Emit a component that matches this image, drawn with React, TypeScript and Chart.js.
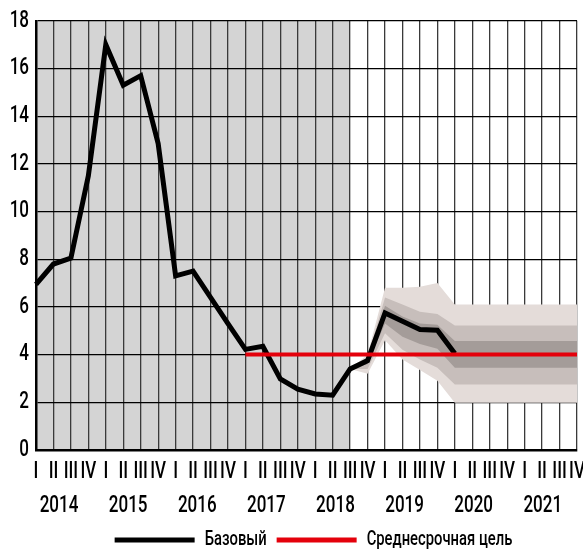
import React, { useEffect, useRef } from "react";
import { Chart, registerables } from "chart.js";

Chart.register(...registerables);

const years = ["2014", "2015", "2016", "2017", "2018", "2019", "2020", "2021"];
const quarters = ["I", "II", "III", "IV"];
const labels = years.flatMap(() => quarters);

// Baseline inflation path (2014 Q1 .. 2020 Q1)
const baseline = [
  6.95, 7.8, 8.05, 11.5, 17.0, 15.3, 15.7, 12.85, 7.3, 7.5, 6.4, 5.3, 4.22,
  4.35, 2.98, 2.55, 2.35, 2.3, 3.4, 3.75, 5.75, 5.4, 5.05, 5.02, 4.05,
];

// Medium-term target (from 2017 Q1)
const target = [
  null, null, null, null, null, null, null, null, null, null, null, null,
  4, 4, 4, 4, 4, 4, 4, 4, 4, 4, 4, 4, 4, 4, 4, 4, 4, 4, 4, 4,
];

const pre = Array(18).fill(null);
const flat = (v: number) => Array(8).fill(v);

// Fan chart bands (from 2018 Q3)
const outerUpper = [...pre, 3.4, 4.0, 6.8, 6.8, 6.85, 7.0, ...flat(6.1)];
const outerLower = [...pre, 3.4, 3.2, 4.6, 3.8, 3.35, 2.9, ...flat(1.98)];
const middleUpper = [...pre, 3.4, 3.9, 6.4, 6.1, 5.8, 5.7, ...flat(5.22)];
const middleLower = [...pre, 3.4, 3.4, 4.9, 4.2, 3.8, 3.45, ...flat(2.75)];
const innerUpper = [...pre, 3.4, 3.85, 6.05, 5.6, 5.3, 5.25, ...flat(4.57)];
const innerLower = [...pre, 3.4, 3.6, 5.3, 4.75, 4.45, 4.25, ...flat(3.45)];

const historyEndIndex = 18; // shaded (actual data) region ends at 2018 Q3

const yTicks = [0, 2, 4, 6, 8, 10, 12, 14, 16, 18];
// year label positions in quarter units
const yearPos = years.map((_, i) => 1.32 + 3.96 * i);

const FONT = "Roboto, 'DejaVu Sans', sans-serif";
const TEXT_SX = 0.74; // horizontal condensing of all text (narrow typeface look)

const bgPlugin = {
  id: "histBg",
  afterLayout(chart: any) {
    if (chart.legend) {
      chart.legend.left += 7;
      chart.legend.right += 7;
    }
  },
  beforeDraw(chart: any) {
    const { ctx, chartArea, scales } = chart;
    const x0 = scales.x.getPixelForValue(0);
    const x1 = scales.x.getPixelForValue(historyEndIndex);
    ctx.save();
    ctx.fillStyle = "#d4d4d4";
    ctx.fillRect(x0, chartArea.top, x1 - x0, chartArea.bottom - chartArea.top);
    ctx.restore();
  },
};

function condense(ctx: any) {
  const fill = ctx.fillText.bind(ctx);
  const measure = ctx.measureText.bind(ctx);
  ctx.fillText = (t: string, x: number, y: number, mw?: number) => {
    ctx.save();
    ctx.translate(x, y);
    ctx.scale(TEXT_SX, 1);
    if (mw !== undefined && mw !== null && isFinite(mw)) fill(t, 0, 0, mw / TEXT_SX);
    else fill(t, 0, 0);
    ctx.restore();
  };
  ctx.measureText = (t: string) => {
    const m = measure(t);
    return {
      width: m.width * TEXT_SX,
      actualBoundingBoxAscent: m.actualBoundingBoxAscent,
      actualBoundingBoxDescent: m.actualBoundingBoxDescent,
      actualBoundingBoxLeft: m.actualBoundingBoxLeft * TEXT_SX,
      actualBoundingBoxRight: m.actualBoundingBoxRight * TEXT_SX,
      fontBoundingBoxAscent: m.fontBoundingBoxAscent,
      fontBoundingBoxDescent: m.fontBoundingBoxDescent,
    };
  };
}

function band(data: (number | null)[], color: string, fill: any, order: number) {
  return {
    label: "",
    data,
    borderWidth: 0,
    borderColor: "transparent",
    backgroundColor: color,
    pointRadius: 0,
    fill,
    order,
    tension: 0,
  };
}

export default function App() {
  const ref = useRef<HTMLCanvasElement>(null);
  useEffect(() => {
    if (!ref.current) return;
    const ctx = ref.current.getContext("2d");
    condense(ctx);
    const tickFont = { family: FONT, size: 23, weight: "500" };
    const chart = new Chart(ctx as any, {
      type: "line",
      data: {
        labels,
        datasets: [
          {
            label: "Базовый",
            data: baseline,
            borderColor: "#000",
            backgroundColor: "#000",
            borderWidth: 5,
            borderJoinStyle: "miter",
            pointRadius: 0,
            fill: false,
            order: 1,
          },
          {
            label: "Среднесрочная цель",
            data: target,
            borderColor: "#e4000b",
            backgroundColor: "#e4000b",
            borderWidth: 4,
            borderCapStyle: "butt",
            pointRadius: 0,
            fill: false,
            order: 0,
          },
          band(outerUpper, "#e4dcd9", "+1", 4),
          band(outerLower, "transparent", false, 4),
          band(middleUpper, "#c7bebb", "+1", 3),
          band(middleLower, "transparent", false, 3),
          band(innerUpper, "#a49c99", "+1", 2),
          band(innerLower, "transparent", false, 2),
        ] as any,
      },
      options: {
        animation: false,
        responsive: false,
        maintainAspectRatio: false,
        layout: { padding: { top: 20, right: 6, left: 0, bottom: -8 } },
        plugins: {
          tooltip: { enabled: false },
          legend: {
            position: "bottom",
            fullSize: false,
            labels: {
              boxWidth: 80,
              boxHeight: 5,
              padding: 10,
              color: "#000",
              font: { family: FONT, size: 20, weight: "500" },
              generateLabels: (c: any) =>
                [0, 1].map((i) => ({
                  text: c.data.datasets[i].label,
                  fillStyle: c.data.datasets[i].borderColor,
                  strokeStyle: c.data.datasets[i].borderColor,
                  lineWidth: 0,
                  hidden: false,
                  datasetIndex: i,
                })),
            },
          },
        },
        scales: {
          x: {
            type: "category",
            offset: false,
            z: 1,
            grid: { color: "#3a3a3a", lineWidth: 1.3, drawTicks: false },
            border: { color: "#000", width: 2.5 },
            ticks: {
              autoSkip: false,
              maxRotation: 0,
              padding: 8,
              color: "#000",
              font: tickFont,
            },
            afterFit: (s: any) => {
              s.height = 40;
              s.paddingRight = 6;
              s.paddingLeft = 0;
            },
          },
          x2: {
            type: "linear",
            position: "bottom",
            min: 0,
            max: labels.length - 1,
            grid: { display: false, drawTicks: false },
            border: { display: false },
            afterBuildTicks: (s: any) => {
              s.ticks = yearPos.map((v) => ({ value: v }));
            },
            ticks: {
              padding: 2,
              color: "#000",
              font: tickFont,
              callback: (_v: any, i: number) => years[i],
            },
            afterFit: (s: any) => {
              s.height = 30;
              s.paddingRight = 0;
              s.paddingLeft = 0;
            },
          },
          y: {
            min: 0,
            max: 18,
            z: 1,
            grid: { color: "#000", lineWidth: 1.2, drawTicks: false },
            border: { color: "#000", width: 2.5 },
            afterBuildTicks: (s: any) => {
              s.ticks = yTicks.map((v) => ({ value: v }));
            },
            ticks: {
              padding: 7,
              color: "#000",
              font: tickFont,
            },
            afterFit: (s: any) => {
              s.width = 36;
            },
          },
        },
      } as any,
      plugins: [bgPlugin],
    });
    return () => chart.destroy();
  }, []);
  return (
    <div style={{ position: "fixed", left: 0, top: 0, width: 583, height: 552 }}>
      <canvas ref={ref} width={583} height={552} />
    </div>
  );
}
